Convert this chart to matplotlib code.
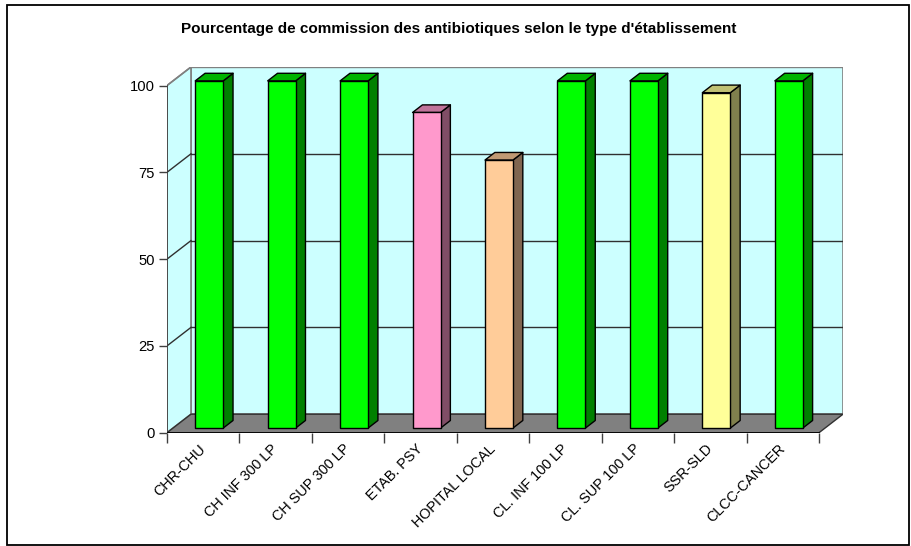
import matplotlib
matplotlib.use("Agg")
import matplotlib.pyplot as plt
from matplotlib.patches import Polygon, Rectangle

plt.rcParams['font.family'] = ['Liberation Sans', 'DejaVu Sans']

title = "Pourcentage de commission des antibiotiques selon le type d'établissement"
categories = ["CHR-CHU", "CH INF 300 LP", "CH SUP 300 LP", "ETAB. PSY", "HOPITAL LOCAL",
              "CL. INF 100 LP", "CL. SUP 100 LP", "SSR-SLD", "CLCC-CANCER"]
values = [100, 100, 100, 90.9, 77.2, 100, 100, 96.6, 100]
y_ticks = [0, 25, 50, 75, 100]

# (front, side, top) colours for each bar
green = ("#00FF00", "#008000", "#00B400")
pink = ("#FF99CC", "#804D66", "#C0739A")
peach = ("#FFCC99", "#806650", "#C09973")
yellow = ("#FFFF99", "#80804D", "#C0C073")
bar_colors = [green, green, green, pink, peach, green, green, yellow, green]

W, H = 911, 546
fig = plt.figure(figsize=(W / 100, H / 100), dpi=100)

# frame around the whole chart
fig.add_artist(Rectangle((7 / W, 1 - 545 / H), 902 / W, 540 / H, transform=fig.transFigure,
                         fill=False, edgecolor="black", linewidth=1.3))

fig.text(459 / W, 1 - 29 / H, title, ha="center", va="center", fontsize=11, fontweight="bold")

# axes: x in category units, y in percent; depth shift expressed in data units
n = len(categories)
front_left, front_right_back, y0px, ytop_px = 167, 843, 432.7, 67
ax = fig.add_axes([front_left / W, 1 - y0px / H, (front_right_back - front_left) / W, (y0px - ytop_px) / H])
DX = 0.331          # depth shift along x (categories)
DY = 5.33           # depth shift along y (percent)
ymax = 100
ax.set_xlim(0, n + DX)
ax.set_ylim(0, ymax + DY)
for s in ax.spines.values():
    s.set_visible(False)
ax.patch.set_visible(False)

wall = "#CCFFFF"
# back wall
ax.add_patch(Rectangle((DX, DY), n, ymax, facecolor=wall, edgecolor="#808080", linewidth=1.2, zorder=1))
# left wall
ax.add_patch(Polygon([(0, 0), (DX, DY), (DX, ymax + DY), (0, ymax)], closed=True,
                     facecolor=wall, edgecolor="#808080", linewidth=1.2, zorder=1))
# gridlines on both walls
for v in y_ticks[1:]:
    c = "#808080" if v == ymax else "#303030"
    ax.plot([DX, n + DX], [v + DY, v + DY], color=c, linewidth=1, zorder=2)
    ax.plot([0, DX], [v, v + DY], color=c, linewidth=1, zorder=2)
# floor
ax.add_patch(Polygon([(0, 0), (n, 0), (n + DX, DY), (DX, DY)], closed=True,
                     facecolor="#808080", edgecolor="#303030", linewidth=1, zorder=3))
# front value axis and base line
ax.plot([0, 0], [0, ymax], color="#404040", linewidth=1.2, zorder=4)
ax.plot([0, n], [0, 0], color="black", linewidth=1.2, zorder=4)

# 3D bars
d0, d1 = 0.25, 0.66
half = 0.193
for i, (v, (cf, cs, ct)) in enumerate(zip(values, bar_colors)):
    xl, xr = i + 0.5 - half, i + 0.5 + half
    f = dict(edgecolor="black", linewidth=1, joinstyle="round", zorder=5)
    ax.add_patch(Polygon([(xr + d0 * DX, d0 * DY), (xr + d1 * DX, d1 * DY),
                          (xr + d1 * DX, v + d1 * DY), (xr + d0 * DX, v + d0 * DY)],
                         closed=True, facecolor=cs, **f))
    ax.add_patch(Polygon([(xl + d0 * DX, v + d0 * DY), (xr + d0 * DX, v + d0 * DY),
                          (xr + d1 * DX, v + d1 * DY), (xl + d1 * DX, v + d1 * DY)],
                         closed=True, facecolor=ct, **f))
    ax.add_patch(Rectangle((xl + d0 * DX, d0 * DY), xr - xl, v, facecolor=cf, **f))

# ticks
ax.set_yticks(y_ticks)
ax.set_yticklabels([str(t) for t in y_ticks], fontsize=10.6)
ax.tick_params(axis="y", length=6, width=1, color="#404040", pad=3)
ax.set_xticks(range(n + 1))
ax.set_xticklabels([])
ax.tick_params(axis="x", which="major", length=7, width=1, color="#404040")
ax.set_xticks([i + 0.5 for i in range(n)], minor=True)
ax.set_xticklabels(categories, minor=True, fontsize=10.4, rotation=45, ha="right",
                   va="center", rotation_mode="anchor")
ax.tick_params(axis="x", which="minor", length=0, pad=10)

fig.savefig("out.png", dpi=100)
